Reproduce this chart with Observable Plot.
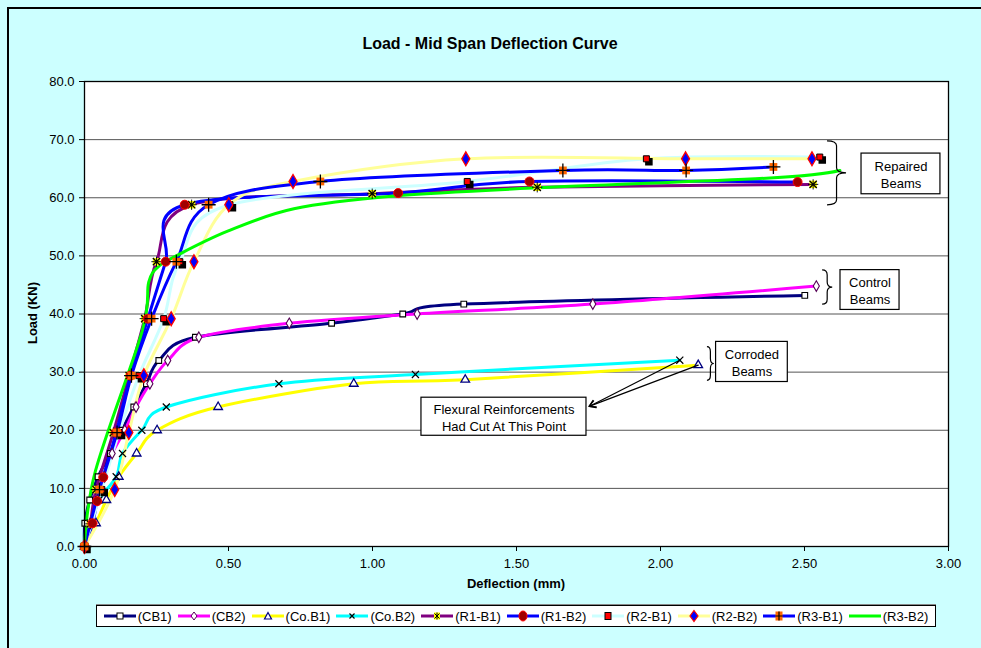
<!DOCTYPE html>
<html><head><meta charset="utf-8">
<script src="https://cdn.jsdelivr.net/npm/d3@7"></script>
<script src="https://cdn.jsdelivr.net/npm/@observablehq/plot@0.6"></script>
<style>
body{margin:0;background:#CCFFFF;}
#wrap{position:relative;width:981px;height:648px;overflow:hidden;background:#CCFFFF;font-family:"Liberation Sans",Arial,sans-serif;color:#000}
#wrap svg.plot{position:absolute;left:0;top:0}
#border{position:absolute;left:7px;top:7px;width:1200px;height:1200px;border-left:2px solid #000;border-top:2px solid #000}
#title{position:absolute;left:0;width:980px;top:35px;text-align:center;font-weight:bold;font-size:16px}
#ytitle{position:absolute;left:32px;top:313px;transform:translate(-50%,-50%) rotate(-90deg);font-weight:bold;font-size:13px;white-space:nowrap}
#xtitle{position:absolute;left:516px;top:583px;transform:translate(-50%,-50%);font-weight:bold;font-size:13px;white-space:nowrap}
#legend{position:absolute;left:96px;top:605px;width:838px;height:20px;background:#fff;border:1px solid #000;display:flex;align-items:center;justify-content:center;font-size:13px;box-shadow:0 -1px 0 #888}
.li{display:flex;align-items:center;margin:0 3px}
.li svg{margin-right:2px}
</style></head><body><div id="wrap"><div id="border"></div><div id="title">Load - Mid Span Deflection Curve</div><div id="ytitle">Load (KN)</div><div id="xtitle">Deflection (mm)</div><div id="legend"></div></div>
<script>
// ---- data ----
const seriesNames = ["(CB1)","(CB2)","(Co.B1)","(Co.B2)","(R1-B1)","(R1-B2)","(R2-B1)","(R2-B2)","(R3-B1)","(R3-B2)"];
const xTicks = [0,0.5,1,1.5,2,2.5,3];
const yTicks = [0,10,20,30,40,50,60,70,80];

const cb1Defl = [0,0.001,0.018,0.047,0.09,0.13,0.171,0.215,0.258,0.385,0.858,1.105,1.317,2.501];
const cb1Load = [0,4,8,12,16,20,24,28,32,36,38.4,40,41.7,43.2];
const cb2Defl = [0,0.02,0.045,0.07,0.096,0.14,0.179,0.227,0.289,0.397,0.711,1.155,1.765,2.541];
const cb2Load = [0,4,8,12,16,20,24,28,32,36,38.4,40,41.7,44.8];
const cob1Defl = [0,0.04,0.076,0.119,0.181,0.252,0.464,0.935,1.322,2.131];
const cob1Load = [0,4,8,12,16,20,24,28,28.7,31.2];
const cob2Defl = [0,0.02,0.05,0.11,0.132,0.199,0.284,0.675,1.149,2.067];
const cob2Load = [0,4,8,12,16,20,24,28,29.6,32.05];
const r1b1Defl = [0,0.02,0.04,0.1,0.155,0.209,0.25,0.372,0.999,1.572,2.53];
const r1b1Load = [0,3.9,9.8,19.6,29.4,39.2,49.0,58.8,60.7,61.8,62.3];
const r1b2Defl = [0,0.028,0.044,0.065,0.11,0.16,0.22,0.282,0.348,1.089,1.545,2.476];
const r1b2Load = [0,4.0,7.8,11.9,19.6,29.4,39.2,49.0,58.8,60.8,62.8,62.7];
const r2b1Defl = [0,0.06,0.12,0.189,0.275,0.331,0.505,1.329,1.951,2.553];
const r2b1Load = [0,9.8,19.6,29.4,39.2,49.0,58.8,62.8,66.7,67.0];
const r2b2Defl = [0,0.105,0.154,0.206,0.301,0.38,0.501,0.724,1.324,2.087,2.526];
const r2b2Load = [0,9.8,19.6,29.4,39.2,49.0,58.8,62.8,66.7,66.7,66.7];
const r3b1Defl = [0,0.052,0.113,0.163,0.233,0.319,0.431,0.819,1.661,2.089,2.392];
const r3b1Load = [0,9.8,19.6,29.4,39.2,49.0,58.8,62.8,64.7,64.7,65.3];
const r3b2Defl = [0,0.038,0.2,0.223,0.26,0.31,0.495,0.727,1.074,1.572,2.38,2.623];
const r3b2Load = [0,13,37,45.5,48.3,49.8,54.2,58.1,60.3,61.7,63.4,64.7];

const annoLabels = ["Repaired\nBeams","Control\nBeams","Corroded\nBeams","Flexural Reinforcements\nHad Cut At This Point"];

// ---- build table ----
const deflArrays = [cb1Defl,cb2Defl,cob1Defl,cob2Defl,r1b1Defl,r1b2Defl,r2b1Defl,r2b2Defl,r3b1Defl,r3b2Defl];
const loadArrays = [cb1Load,cb2Load,cob1Load,cob2Load,r1b1Load,r1b2Load,r2b1Load,r2b2Load,r3b1Load,r3b2Load];
const rows = [];
seriesNames.forEach((s,i)=>deflArrays[i].forEach((d,j)=>rows.push({series:s,defl:d,load:loadArrays[i][j]})));
const of = s => rows.filter(r=>r.series===s);

const lineColors = {"(CB1)":"#000080","(CB2)":"#FF00FF","(Co.B1)":"#FFFF00","(Co.B2)":"#00FFFF","(R1-B1)":"#800080","(R1-B2)":"#0000FF","(R2-B1)":"#CCFFFF","(R2-B2)":"#FFFF99","(R3-B1)":"#0000FF","(R3-B2)":"#00FF00"};

function markerMarks(s){
  const d = of(s); const o={x:"defl",y:"load"};
  switch(s){
    case "(CB1)": return [Plot.dot(d,{...o,symbol:"square",r:3.2,fill:"white",stroke:"#000",strokeWidth:1.1})];
    case "(CB2)": return [Plot.dot(d,{...o,symbol:"diamond",r:3.2,fill:"white",stroke:"#550055",strokeWidth:1.1})];
    case "(Co.B1)": return [Plot.dot(d,{...o,symbol:"triangle",r:3.2,fill:"white",stroke:"#000080",strokeWidth:1.3})];
    case "(Co.B2)": return [Plot.dot(d,{...o,symbol:"times",r:3.3,stroke:"#000",strokeWidth:1.2})];
    case "(R1-B1)": return [Plot.dot(d,{...o,symbol:"square",r:4.2,fill:"#FFFF00",stroke:"none"}),Plot.dot(d,{...o,symbol:"times",r:3.4,stroke:"#000",strokeWidth:1.3}),Plot.dot(d,{...o,symbol:"plus",r:3.4,stroke:"#000",strokeWidth:0.9})];
    case "(R1-B2)": return [Plot.dot(d,{...o,symbol:"circle",r:4.5,fill:"#A00000",stroke:"#FF0000",strokeWidth:1})];
    case "(R2-B1)": return [Plot.dot(d,{...o,symbol:"square",r:3.4,fill:"#000",stroke:"#000",dx:2.5,dy:3}),Plot.dot(d,{...o,symbol:"square",r:3.4,fill:"#FF0000",stroke:"#000",strokeWidth:1})];
    case "(R2-B2)": return [Plot.dot(d,{...o,symbol:"diamond",r:4.2,fill:"#0000FF",stroke:"#FF0000",strokeWidth:1.3})];
    case "(R3-B1)": return [Plot.dot(d,{...o,symbol:"square",r:4.4,fill:"#FF6600",stroke:"none"}),Plot.dot(d,{...o,symbol:"plus",r:4.6,stroke:"#000",strokeWidth:1.3})];
    default: return [];
  }
}

// annotation geometry in data units
const boxes = [
  {x1:2.698,x2:2.972,y1:60.6,y2:67.6,t:annoLabels[0]},
  {x1:2.625,x2:2.830,y1:40.7,y2:47.55,t:annoLabels[1]},
  {x1:2.193,x2:2.442,y1:28.3,y2:35.2,t:annoLabels[2]},
  {x1:1.170,x2:1.743,y1:19.05,y2:25.6,t:annoLabels[3]}
];
const arrows = [
  {x1:cob2Defl[cob2Defl.length-1],y1:cob2Load[cob2Load.length-1],x2:1.752,y2:24.1},
  {x1:cob1Defl[cob1Defl.length-1],y1:cob1Load[cob1Load.length-1],x2:1.752,y2:24.1}
];
const braces = [
  {x:2.58,w:0.066,y1:69.7,y2:58.7},
  {x:2.563,w:0.035,y1:47.5,y2:41.6},
  {x:2.163,w:0.024,y1:34.3,y2:28.5}
];

const lineMarks = seriesNames.map(s=>Plot.line(of(s),{x:"defl",y:"load",stroke:lineColors[s],strokeWidth:3,curve:"cardinal",tension:0}));

const plot = Plot.plot({
  width:981,height:648,marginLeft:84,marginRight:33,marginTop:81,marginBottom:102,
  style:{background:"transparent",fontFamily:"'Liberation Sans',Arial,sans-serif",fontSize:"13px",color:"#000",overflow:"visible"},
  x:{domain:[0,3]},
  y:{domain:[0,80]},
  marks:[
    Plot.frame({fill:"white",stroke:"none"}),
    Plot.gridY(yTicks.slice(1,-1),{stroke:"#555",strokeOpacity:1,strokeWidth:1}),
    Plot.axisY(yTicks,{tickSize:5,tickPadding:5,tickFormat:d=>d.toFixed(1),label:null}),
    Plot.axisX(xTicks,{tickSize:5,tickPadding:7,tickFormat:d=>d.toFixed(2),label:null}),
    ...lineMarks,
    ...seriesNames.flatMap(markerMarks),
    Plot.arrow(arrows,{x1:"x1",y1:"y1",x2:"x2",y2:"y2",stroke:"#000",strokeWidth:1.2,headLength:9}),
    Plot.rect(boxes,{x1:"x1",x2:"x2",y1:"y1",y2:"y2",fill:"white",stroke:"#000",strokeWidth:1.2}),
    Plot.text(boxes,{x:d=>(d.x1+d.x2)/2,y:d=>(d.y1+d.y2)/2,text:"t",fontSize:13,lineHeight:1.3,fill:"#000"}),
    Plot.frame({stroke:"#000",strokeWidth:1.3})
  ]
});
document.getElementById("wrap").appendChild(plot);

// braces
const sx = plot.scale("x"), sy = plot.scale("y");
const svg = d3.select(plot);
braces.forEach(b=>{
  const x0=sx.apply(b.x), x1=sx.apply(b.x+b.w), ya=sy.apply(b.y1), yb=sy.apply(b.y2);
  const xm=(x0+x1)/2, ym=(ya+yb)/2, r=Math.min(5,(yb-ya)/4);
  const p=`M${x0},${ya} Q${xm},${ya} ${xm},${ya+r} L${xm},${ym-r} Q${xm},${ym} ${x1},${ym} Q${xm},${ym} ${xm},${ym+r} L${xm},${yb-r} Q${xm},${yb} ${x0},${yb}`;
  svg.append("path").attr("d",p).attr("fill","none").attr("stroke","#000").attr("stroke-width",1.2);
});

// legend
const legendMarker = {
  "(CB1)":'<rect x="13" y="4" width="6" height="6" fill="white" stroke="#000" stroke-width="1"/>',
  "(CB2)":'<path d="M16,3 L19,7 L16,11 L13,7Z" fill="white" stroke="#550055" stroke-width="1"/>',
  "(Co.B1)":'<path d="M16,3.5 L19.5,10 L12.5,10Z" fill="white" stroke="#000080" stroke-width="1.2"/>',
  "(Co.B2)":'<path d="M13.5,4.5 L18.5,9.5 M18.5,4.5 L13.5,9.5" stroke="#000" stroke-width="1.2"/>',
  "(R1-B1)":'<rect x="13" y="3.5" width="6" height="7" fill="#FFFF00"/><path d="M13.5,4.5 L18.5,9.5 M18.5,4.5 L13.5,9.5 M16,3.5 L16,10.5" stroke="#000" stroke-width="1"/>',
  "(R1-B2)":'<ellipse cx="16" cy="7" rx="4" ry="5" fill="#A00000" stroke="#FF0000"/>',
  "(R2-B1)":'<rect x="13" y="3.5" width="6" height="7" fill="#FF0000" stroke="#000" stroke-width="1"/>',
  "(R2-B2)":'<path d="M16,1.5 L20,7 L16,12.5 L12,7Z" fill="#0000FF" stroke="#FF0000" stroke-width="1.2"/>',
  "(R3-B1)":'<rect x="12.5" y="2.5" width="7" height="9" fill="#FF6600"/><path d="M16,2.5 L16,11.5 M12.5,7 L19.5,7" stroke="#000" stroke-width="1.2"/>',
  "(R3-B2)":''
};
const lg = document.getElementById("legend");
seriesNames.forEach(s=>{
  const it=document.createElement("div"); it.className="li";
  it.innerHTML=`<svg width="32" height="14"><line x1="0" y1="7" x2="32" y2="7" stroke="${lineColors[s]}" stroke-width="3"/>${legendMarker[s]}</svg><span>${s}</span>`;
  lg.appendChild(it);
});
</script></body></html>
